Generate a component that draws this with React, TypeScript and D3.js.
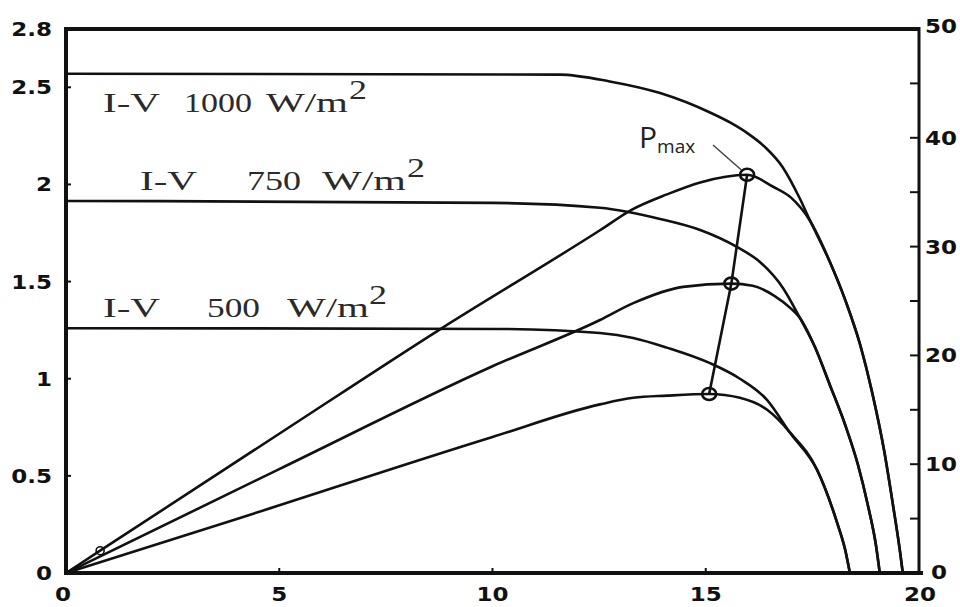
import React from "react";
import * as d3 from "d3";

type Pt = [number, number];

// axis ticks
const xTicks = [0, 5, 10, 15, 20];
const leftTicks = [0, 0.5, 1, 1.5, 2, 2.5, 2.8];
const rightTicks = [0, 10, 20, 30, 40, 50];
const rightMinor = [5, 15, 25, 35, 45];

const irradiance = ["1000", "750", "500"];

// I-V curves: [voltage, current A]
const iv1000: Pt[] = [
  [0, 2.57], [11.58, 2.565], [12.75, 2.53], [13.93, 2.47], [15.1, 2.37], [15.6, 2.315],
  [16.0, 2.26], [16.4, 2.19], [16.8, 2.09], [17.2, 1.93], [17.44, 1.817], [17.91, 1.601],
  [18.27, 1.405], [18.62, 1.174], [18.9, 0.932], [19.18, 0.633], [19.39, 0.35], [19.55, 0.118],
  [19.62, 0],
];
const iv750: Pt[] = [
  [0, 1.915], [10, 1.905], [12.52, 1.88], [13.93, 1.822], [14.87, 1.765], [15.73, 1.678],
  [16.27, 1.601], [16.81, 1.467], [17.21, 1.312], [17.56, 1.163], [17.91, 0.968], [18.27, 0.762],
  [18.57, 0.556], [18.8, 0.35], [18.99, 0.144], [19.08, 0],
];
const iv500: Pt[] = [
  [0, 1.26], [10.18, 1.256], [12.52, 1.235], [13.3, 1.21], [14.09, 1.16], [15.1, 1.08],
  [15.8, 1.0], [16.44, 0.89], [16.98, 0.72], [17.61, 0.53], [18.08, 0.26], [18.27, 0.12],
  [18.38, 0],
];

// P-V curves: [voltage, power W]
const pv1000: Pt[] = [
  [0, 0], [0.8, 2.05], [5, 12.8], [8.77, 22.4], [12.52, 31.5], [13.27, 33.4], [14.09, 34.8],
  [14.87, 35.9], [15.97, 36.6], [16.58, 35.5], [17.0, 34.5], [17.44, 32.4], [17.91, 28.6],
  [18.27, 25.1], [18.62, 21.0], [18.9, 16.6], [19.18, 11.3], [19.39, 6.25], [19.55, 2.11],
  [19.62, 0],
];
const pv750: Pt[] = [
  [0, 0], [5, 9.55], [10, 19.0], [12.52, 23.25], [13.3, 24.8], [14.47, 26.3], [15.6, 26.6],
  [16.1, 26.4], [16.6, 25.5], [17.0, 24.3], [17.21, 23.44], [17.56, 20.77], [17.91, 17.28],
  [18.27, 13.6], [18.57, 9.93], [18.8, 6.25], [18.99, 2.57], [19.08, 0],
];
const pv500: Pt[] = [
  [0, 0], [4.08, 5.06], [10, 12.5], [12.52, 15.5], [13.3, 16.1], [14.09, 16.3], [15.08, 16.45],
  [15.8, 16.1], [16.44, 15.0], [16.98, 12.9], [17.61, 9.5], [18.08, 4.6], [18.27, 2.1],
  [18.38, 0],
];

// maximum power points, 1000 -> 750 -> 500
const pmax: Pt[] = [[15.97, 36.6], [15.6, 26.6], [15.08, 16.45]];
const originRing: Pt = [0.8, 2.05];

export default function App() {
  const x = d3.scaleLinear().domain([0, 20]).range([66, 919]);
  const yI = d3.scaleLinear().domain([0, 2.8]).range([573, 29]);
  const yP = d3.scaleLinear().domain([0, 50]).range([573, 29]);

  const ivLine = d3.line<Pt>().x((d) => x(d[0])).y((d) => yI(d[1])).curve(d3.curveMonotoneX);
  const pvLine = d3.line<Pt>().x((d) => x(d[0])).y((d) => yP(d[1])).curve(d3.curveMonotoneX);
  const straight = d3.line<Pt>().x((d) => x(d[0])).y((d) => yP(d[1]));

  const tickFont = { fontFamily: "DejaVu Sans", fontWeight: 700, fontSize: 20, fill: "#111" };
  const serif = { fontFamily: "Liberation Serif", fontSize: 27, fill: "#2a2a2a" };

  // label layout: I-V, number, W/m, superscript
  const labels = [
    { base: 112, iv: [103, 57], num: [184, 68], w: [266, 82], sup: [349, 18] },
    { base: 190, iv: [140, 57], num: [247, 54], w: [322, 84], sup: [407, 18] },
    { base: 317, iv: [103, 57], num: [207, 53], w: [287, 82], sup: [369, 18] },
  ];

  const curveStyle = { fill: "none", stroke: "#111", strokeWidth: 2.6, strokeLinejoin: "round" as const };

  return (
    <svg width={960} height={607} style={{ position: "absolute", left: 0, top: 0, background: "#fff" }}>
      <rect width={960} height={607} fill="#fff" />

      {/* curves */}
      {[iv1000, iv750, iv500].map((d, i) => (
        <path key={"iv" + i} d={ivLine(d) || ""} {...curveStyle} />
      ))}
      {[pv1000, pv750, pv500].map((d, i) => (
        <path key={"pv" + i} d={pvLine(d) || ""} {...curveStyle} />
      ))}

      {/* Pmax locus */}
      <path d={straight(pmax) || ""} fill="none" stroke="#111" strokeWidth={2.6} />
      {pmax.map((d, i) => (
        <ellipse key={"pm" + i} cx={x(d[0])} cy={yP(d[1])} rx={7} ry={6} fill="none" stroke="#111" strokeWidth={2.6} />
      ))}
      <circle cx={x(originRing[0])} cy={yP(originRing[1])} r={4} fill="none" stroke="#111" strokeWidth={1.6} />

      {/* Pmax annotation */}
      <line x1={713} y1={145} x2={x(pmax[0][0]) - 6} y2={yP(pmax[0][1]) - 5} stroke="#444" strokeWidth={1.5} />
      <text x={639} y={148} fontFamily="Open Sans" fontSize={30} fill="#222">
        P
        <tspan fontSize={19} dy={5}>max</tspan>
      </text>

      {/* irradiance labels */}
      {labels.map((l, i) => (
        <g key={"lab" + i} style={serif}>
          <text x={l.iv[0]} y={l.base} textLength={l.iv[1]} lengthAdjust="spacingAndGlyphs">I-V</text>
          <text x={l.num[0]} y={l.base} textLength={l.num[1]} lengthAdjust="spacingAndGlyphs">{irradiance[i]}</text>
          <text x={l.w[0]} y={l.base} textLength={l.w[1]} lengthAdjust="spacingAndGlyphs">W/m</text>
          <text x={l.sup[0]} y={l.base - 13} textLength={l.sup[1]} lengthAdjust="spacingAndGlyphs">2</text>
        </g>
      ))}

      {/* frame and axes */}
      <line x1={66} y1={29} x2={919} y2={29} stroke="#111" strokeWidth={4} />
      <line x1={919} y1={27} x2={919} y2={575} stroke="#111" strokeWidth={3} />
      <line x1={66} y1={27} x2={66} y2={575} stroke="#111" strokeWidth={4} />
      <line x1={64} y1={573} x2={923} y2={573} stroke="#111" strokeWidth={4} />

      {/* left axis */}
      {leftTicks.map((t) => (
        <g key={"l" + t}>
          {t > 0 && t < 2.8 && <line x1={66} x2={71} y1={yI(t)} y2={yI(t)} stroke="#111" strokeWidth={2} />}
          <text transform={`translate(52,${yI(t) + 7}) scale(1.15,1)`} textAnchor="end" style={tickFont}>
            {String(t)}
          </text>
        </g>
      ))}

      {/* right axis */}
      {rightMinor.map((t) => (
        <line key={"rm" + t} x1={910} x2={919} y1={yP(t)} y2={yP(t)} stroke="#111" strokeWidth={2} />
      ))}
      {rightTicks.map((t) => (
        <g key={"r" + t}>
          {t > 0 && t < 50 && <line x1={910} x2={919} y1={yP(t)} y2={yP(t)} stroke="#111" strokeWidth={2} />}
          <text transform={`translate(${t === 0 ? 931 : 925},${yP(t) + (t === 0 ? 6 : t === 50 ? 4 : 7)}) scale(1.15,1)`} style={tickFont}>
            {t}
          </text>
        </g>
      ))}

      {/* bottom axis */}
      {xTicks.map((t) => (
        <g key={"x" + t}>
          {t > 0 && t < 20 && <line x1={x(t)} x2={x(t)} y1={573} y2={568} stroke="#111" strokeWidth={2} />}
          <text transform={`translate(${x(t) + (t === 0 ? -3 : t === 20 ? 1 : 0)},${601}) scale(1.15,1)`} textAnchor="middle" style={tickFont}>
            {t}
          </text>
        </g>
      ))}
    </svg>
  );
}
